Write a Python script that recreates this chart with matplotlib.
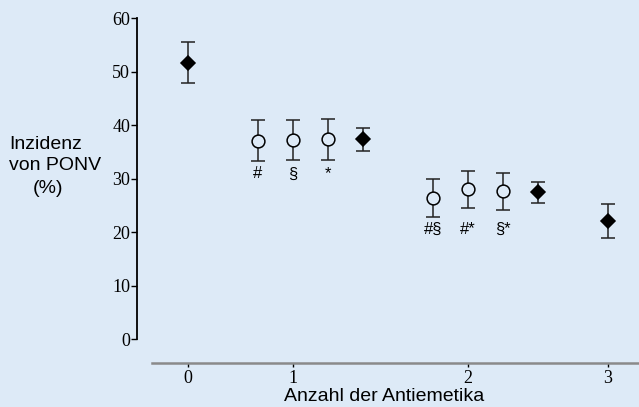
import matplotlib
matplotlib.use("Agg")
import matplotlib.pyplot as plt

# positions on the horizontal axis (groups are spaced like the original)
pos_0 = [0]
pos_1 = [2, 3, 4]
pos_1m = [5]
pos_2 = [7, 8, 9]
pos_2m = [10]
pos_3 = [12]

tick_pos = [0, 3, 8, 12]
tick_labels = ["0", "1", "2", "3"]

# incidence of PONV (%) with lower / upper error bar ends
val_0 = [51.7]
lo_0 = [47.9]
hi_0 = [55.5]

val_1 = [37.1, 37.2, 37.4]
lo_1 = [33.3, 33.5, 33.6]
hi_1 = [40.9, 41.0, 41.2]
sig_1 = ["#", "§", "*"]

val_1m = [37.4]
lo_1m = [35.2]
hi_1m = [39.5]

val_2 = [26.5, 28.1, 27.7]
lo_2 = [22.9, 24.5, 24.2]
hi_2 = [30.0, 31.5, 31.1]
sig_2 = ["#§", "#*", "§*"]

val_2m = [27.5]
lo_2m = [25.4]
hi_2m = [29.4]

val_3 = [22.1]
lo_3 = [18.9]
hi_3 = [25.3]

bg = "#ddeaf7"
ink = "#222222"

fig = plt.figure(figsize=(6.39, 4.07), dpi=100)
fig.patch.set_facecolor(bg)
ax = fig.add_axes([137 / 639, 1 - 339.3 / 407, 1 - 137 / 639, (339.3 - 18.3) / 407])
ax.set_facecolor(bg)


def draw(x, v, lo, hi, marker, face):
    err = [[a - b for a, b in zip(v, lo)], [c - a for a, c in zip(v, hi)]]
    ax.errorbar(x, v, yerr=err, fmt=marker, ms=9.2 if marker == "o" else 6.8,
                mfc=face, mec="black", mew=1.1, ecolor=ink, elinewidth=1.1,
                capsize=4.7, capthick=1.5, zorder=3)


draw(pos_0, val_0, lo_0, hi_0, "D", "black")
draw(pos_1, val_1, lo_1, hi_1, "o", bg)
draw(pos_1m, val_1m, lo_1m, hi_1m, "D", "black")
draw(pos_2, val_2, lo_2, hi_2, "o", bg)
draw(pos_2m, val_2m, lo_2m, hi_2m, "D", "black")
draw(pos_3, val_3, lo_3, hi_3, "D", "black")

# significance marks below the open circles
for xs, los, marks in [(pos_1, lo_1, sig_1), (pos_2, lo_2, sig_2)]:
    y = min(los) - 2.4
    for x, m in zip(xs, marks):
        ax.text(x, y, m, ha="center", va="center", fontsize=12,
                family="Liberation Sans", color="black")

ax.set_xlim(-1.449, 12.894)
ax.set_ylim(0, 60)

ax.spines["top"].set_visible(False)
ax.spines["right"].set_visible(False)
ax.spines["left"].set_linewidth(1.3)
ax.spines["left"].set_color("black")
ax.spines["bottom"].set_position(("outward", 17))
ax.spines["bottom"].set_bounds(-1.02, 12.894)
ax.spines["bottom"].set_color("#8a8a8a")
ax.spines["bottom"].set_linewidth(1.8)

ax.set_yticks([0, 10, 20, 30, 40, 50, 60])
ax.set_xticks(tick_pos)
ax.set_xticklabels(tick_labels)
ax.tick_params(axis="y", direction="out", length=4, width=1, pad=1,
               labelsize=13, colors="black")
ax.tick_params(axis="x", direction="out", length=3, width=1, pad=2,
               labelsize=13, colors="black")
for lab in ax.get_xticklabels() + ax.get_yticklabels():
    lab.set_family("Liberation Serif")

fig.text(9 / 639, 1 - 149 / 407, "Inzidenz", ha="left", va="baseline",
         fontsize=14, family="Liberation Sans")
fig.text(9 / 639, 1 - 170 / 407, "von PONV", ha="left", va="baseline",
         fontsize=14, family="Liberation Sans")
fig.text(48 / 639, 1 - 193 / 407, "(%)", ha="center", va="baseline",
         fontsize=14, family="Liberation Sans")
fig.text(384 / 639, 1 - 401 / 407, "Anzahl der Antiemetika", ha="center",
         va="baseline", fontsize=14, family="Liberation Sans")

fig.savefig("out.png", dpi=100, facecolor=bg)
